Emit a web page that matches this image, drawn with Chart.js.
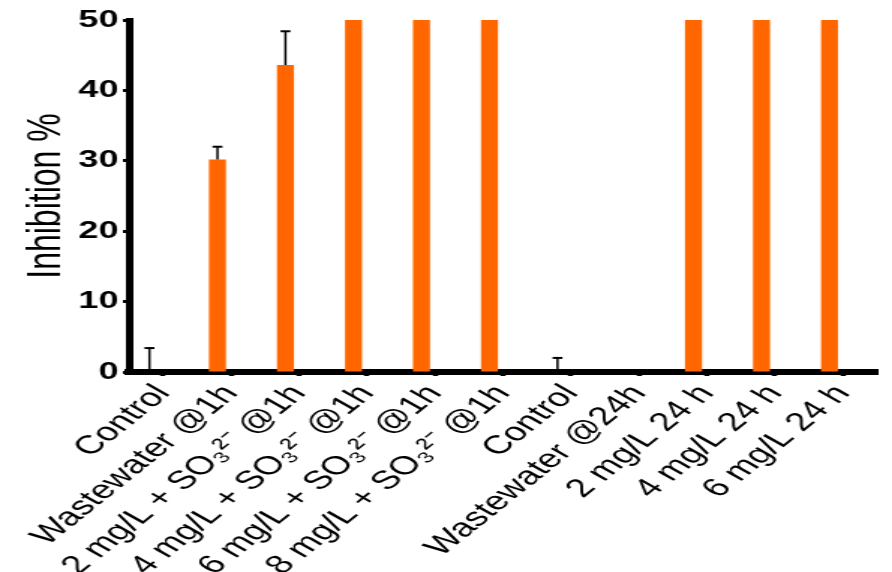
<!DOCTYPE html>
<html>
<head>
<meta charset="utf-8">
<script src="https://cdn.jsdelivr.net/npm/chart.js@4.4.0/dist/chart.umd.min.js"></script>
<style>
    html, body { margin: 0; padding: 0; background: #fff; }
</style>
</head>
<body>
<!-- El lienzo se dibuja a 595px y se estira a 892px como la figura original -->
<canvas id="grafico" width="595" height="572" style="display:block;width:892px;height:572px"></canvas>
<script>
// Datos
const categorias = [
    'Control',
    'Wastewater @1h',
    '2 mg/L + SO₃²⁻ @1h',
    '4 mg/L + SO₃²⁻ @1h',
    '6 mg/L + SO₃²⁻ @1h',
    '8 mg/L + SO₃²⁻ @1h',
    'Control',
    'Wastewater @24h',
    '2 mg/L 24 h',
    '4 mg/L 24 h',
    '6 mg/L 24 h'
];
const inhibicion = [0, 30.2, 43.6, 50, 50, 50, 0, 0, 50, 50, 50];
const errores = [3.4, 1.8, 4.8, 0, 0, 0, 2.0, 0, 0, 0, 0];
const ticksY = [0, 10, 20, 30, 40, 50];
// serie vacía: desplaza las barras a la izquierda de cada marca (estilo Prism)
const vacio = [null, null, null, null, null, null, null, null, null, null, null];

// Barras de error (solo hacia arriba)
const barrasError = {
    id: 'barrasError',
    afterDatasetsDraw(chart) {
        const ctx = chart.ctx;
        const escalaY = chart.scales.y;
        const meta = chart.getDatasetMeta(0);
        ctx.save();
        ctx.strokeStyle = '#000';
        meta.data.forEach((barra, i) => {
            const e = errores[i];
            if (!e) return;
            const y0 = escalaY.getPixelForValue(inhibicion[i]);
            const y1 = escalaY.getPixelForValue(inhibicion[i] + e);
            ctx.lineWidth = 1.5;
            ctx.beginPath();
            ctx.moveTo(barra.x, y0);
            ctx.lineTo(barra.x, y1);
            ctx.stroke();
            ctx.lineWidth = 2;
            ctx.beginPath();
            ctx.moveTo(barra.x - 3.3, y1);
            ctx.lineTo(barra.x + 3.3, y1);
            ctx.stroke();
        });
        ctx.restore();
    }
};

const canvas = document.getElementById('grafico');
const ctx = canvas.getContext('2d');
new Chart(ctx, {
    type: 'bar',
    data: {
        labels: categorias,
        datasets: [{
            data: inhibicion,
            backgroundColor: '#ff6600',
            borderWidth: 0,
            barPercentage: 0.63,
            categoryPercentage: 0.794
        }, {
            data: vacio,
            backgroundColor: 'rgba(0,0,0,0)',
            barPercentage: 0.63,
            categoryPercentage: 0.794
        }]
    },
    options: {
        responsive: false,
        animation: false,
        devicePixelRatio: 1,
        layout: { padding: { top: 20, right: 10, bottom: 0, left: 0 } },
        plugins: {
            legend: { display: false },
            tooltip: { enabled: false }
        },
        scales: {
            x: {
                z: 1,
                offset: true,
                afterFit: (s) => { s.height = 200; },
                border: { display: true, color: '#000', width: 6 },
                grid: {
                    offset: false,
                    drawOnChartArea: false,
                    drawTicks: true,
                    tickLength: 4,
                    tickWidth: 3.5,
                    tickColor: '#000'
                },
                ticks: {
                    autoSkip: false,
                    minRotation: 50,
                    maxRotation: 50,
                    padding: 3,
                    color: '#000',
                    font: { family: 'Liberation Sans, Arial, sans-serif', size: 26 }
                }
            },
            y: {
                z: 1,
                min: ticksY[0],
                max: ticksY[ticksY.length - 1],
                afterFit: (s) => { s.width = 86; },
                border: { display: true, color: '#000', width: 5 },
                grid: {
                    drawOnChartArea: false,
                    drawTicks: true,
                    tickLength: 4,
                    tickWidth: 3,
                    tickColor: '#000'
                },
                ticks: {
                    stepSize: 10,
                    padding: 3,
                    color: '#000',
                    font: { family: 'Liberation Sans, Arial, sans-serif', size: 24, weight: 'bold' }
                },
                title: {
                    display: true,
                    text: 'Inhibition %',
                    color: '#000',
                    padding: { top: 12, bottom: 0 },
                    font: { family: 'Liberation Sans, Arial, sans-serif', size: 32 }
                }
            }
        }
    },
    plugins: [barrasError]
});
// por si Chart.js reescribe el estilo, se vuelve a estirar
canvas.style.width = '892px';
canvas.style.height = '572px';
console.log('Gráfico de inhibición inicializado');
</script>
</body>
</html>
